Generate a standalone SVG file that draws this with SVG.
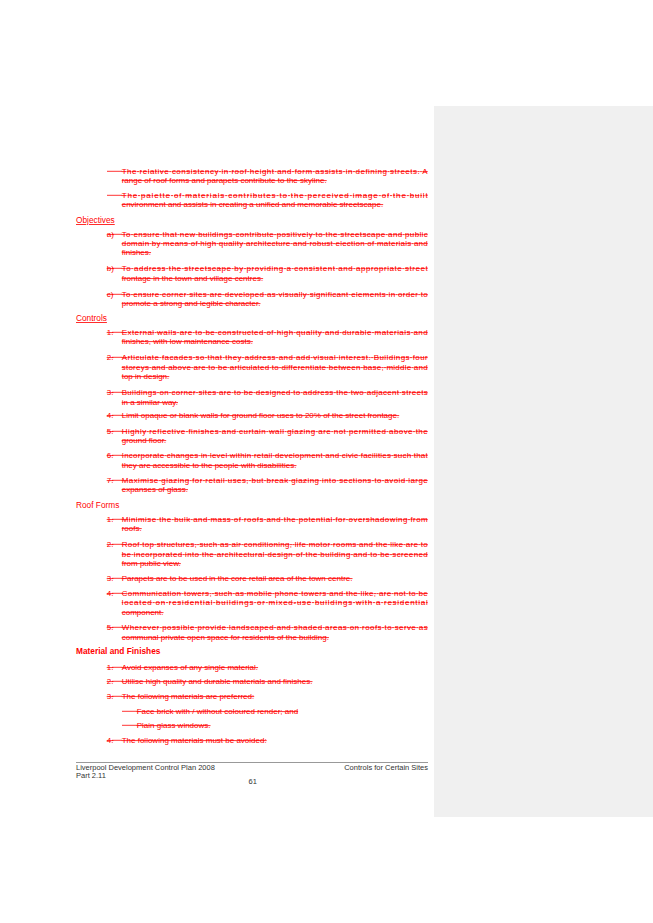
<svg xmlns="http://www.w3.org/2000/svg" width="653" height="923" viewBox="0 0 653 923">
<style>
text{font-family:"Liberation Sans",Arial,sans-serif;font-size:8px;fill:#f00}
.s{text-decoration:line-through}
.h{font-size:8.3px}
.u{text-decoration:underline}
.f{fill:#333;font-size:7.5px}
.g{stroke:#f00;stroke-width:0.8}
</style>
<rect width="653" height="923" fill="#fff"/>
<rect x="434" y="106" width="219" height="711" fill="#f0f0f0"/>
<g id="gaps">
<line class="g" x1="107" y1="171.3" x2="122" y2="171.3"/>
<line class="g" x1="107" y1="195.3" x2="122" y2="195.3"/>
<line class="g" x1="112" y1="234.3" x2="122" y2="234.3"/>
<line class="g" x1="112" y1="268.3" x2="122" y2="268.3"/>
<line class="g" x1="112" y1="294.3" x2="122" y2="294.3"/>
<line class="g" x1="112" y1="332.3" x2="122" y2="332.3"/>
<line class="g" x1="112" y1="357.3" x2="122" y2="357.3"/>
<line class="g" x1="112" y1="392.3" x2="122" y2="392.3"/>
<line class="g" x1="112" y1="415.3" x2="122" y2="415.3"/>
<line class="g" x1="112" y1="431.3" x2="122" y2="431.3"/>
<line class="g" x1="112" y1="455.3" x2="122" y2="455.3"/>
<line class="g" x1="112" y1="480.3" x2="122" y2="480.3"/>
<line class="g" x1="112" y1="519.3" x2="122" y2="519.3"/>
<line class="g" x1="112" y1="544.3" x2="122" y2="544.3"/>
<line class="g" x1="112" y1="578.3" x2="122" y2="578.3"/>
<line class="g" x1="112" y1="593.3" x2="122" y2="593.3"/>
<line class="g" x1="112" y1="627.3" x2="122" y2="627.3"/>
<line class="g" x1="112" y1="667.3" x2="122" y2="667.3"/>
<line class="g" x1="112" y1="681.3" x2="122" y2="681.3"/>
<line class="g" x1="112" y1="696.3" x2="122" y2="696.3"/>
<line class="g" x1="122" y1="711.3" x2="137" y2="711.3"/>
<line class="g" x1="122" y1="725.3" x2="137" y2="725.3"/>
<line class="g" x1="112" y1="740.3" x2="122" y2="740.3"/>
</g>
<g id="intro">
<text class="s" x="121.7" y="174" textLength="306" lengthAdjust="spacing">The relative consistency in roof height and form assists in defining streets.  A</text>
<text class="s" x="121.7" y="183">range of roof forms and parapets contribute to the skyline.</text>
<text class="s" x="121.7" y="198" textLength="306" lengthAdjust="spacing">The palette of materials contributes to the perceived image of the built</text>
<text class="s" x="121.7" y="207">environment and assists in creating a unified and memorable streetscape.</text>
</g>
<g id="objectives">
<text class="h u" x="76" y="223">Objectives</text>
<text class="s" x="106.7" y="237">a)</text>
<text class="s" x="121.7" y="237" textLength="306" lengthAdjust="spacing">To ensure that new buildings contribute positively to the streetscape and public</text>
<text class="s" x="121.7" y="246" textLength="306" lengthAdjust="spacing">domain by means of high quality architecture and robust election of materials and</text>
<text class="s" x="121.7" y="255">finishes.</text>
<text class="s" x="106.7" y="271">b)</text>
<text class="s" x="121.7" y="271" textLength="306" lengthAdjust="spacing">To address the streetscape by providing a consistent and appropriate street</text>
<text class="s" x="121.7" y="281">frontage in the town and village centres.</text>
<text class="s" x="106.7" y="297">c)</text>
<text class="s" x="121.7" y="297" textLength="306" lengthAdjust="spacing">To ensure corner sites are developed as visually significant elements in order to</text>
<text class="s" x="121.7" y="306">promote a strong and legible character.</text>
</g>
<g id="controls">
<text class="h u" x="76" y="321">Controls</text>
<text class="s" x="106.7" y="335">1.</text>
<text class="s" x="121.7" y="335" textLength="306" lengthAdjust="spacing">External walls are to be constructed of high quality and durable materials and</text>
<text class="s" x="121.7" y="344">finishes, with low maintenance costs.</text>
<text class="s" x="106.7" y="360">2.</text>
<text class="s" x="121.7" y="360" textLength="306" lengthAdjust="spacing">Articulate facades so that they address and add visual interest.  Buildings four</text>
<text class="s" x="121.7" y="370" textLength="306" lengthAdjust="spacing">storeys and above are to be articulated to differentiate between base, middle and</text>
<text class="s" x="121.7" y="379">top in design.</text>
<text class="s" x="106.7" y="395">3.</text>
<text class="s" x="121.7" y="395" textLength="306" lengthAdjust="spacing">Buildings on corner sites are to be designed to address the two adjacent streets</text>
<text class="s" x="121.7" y="405">in a similar way.</text>
<text class="s" x="106.7" y="418">4.</text>
<text class="s" x="121.7" y="418">Limit opaque or blank walls for ground floor uses to 20% of the street frontage.</text>
<text class="s" x="106.7" y="434">5.</text>
<text class="s" x="121.7" y="434" textLength="306" lengthAdjust="spacing">Highly reflective finishes and curtain wall glazing are not permitted above the</text>
<text class="s" x="121.7" y="443">ground floor.</text>
<text class="s" x="106.7" y="458">6.</text>
<text class="s" x="121.7" y="458" textLength="306" lengthAdjust="spacing">Incorporate changes in level within retail development and civic facilities such that</text>
<text class="s" x="121.7" y="468">they are accessible to the people with disabilities.</text>
<text class="s" x="106.7" y="483">7.</text>
<text class="s" x="121.7" y="483" textLength="306" lengthAdjust="spacing">Maximise glazing for retail uses, but break glazing into sections to avoid large</text>
<text class="s" x="121.7" y="492">expanses of glass.</text>
</g>
<g id="roof">
<text class="h" x="76" y="508">Roof Forms</text>
<text class="s" x="106.7" y="522">1.</text>
<text class="s" x="121.7" y="522" textLength="306" lengthAdjust="spacing">Minimise the bulk and mass of roofs and the potential for overshadowing from</text>
<text class="s" x="121.7" y="531">roofs.</text>
<text class="s" x="106.7" y="547">2.</text>
<text class="s" x="121.7" y="547" textLength="306" lengthAdjust="spacing">Roof top structures, such as air conditioning, life motor rooms and the like are to</text>
<text class="s" x="121.7" y="557" textLength="306" lengthAdjust="spacing">be incorporated into the architectural design of the building and to be screened</text>
<text class="s" x="121.7" y="566">from public view.</text>
<text class="s" x="106.7" y="581">3.</text>
<text class="s" x="121.7" y="581">Parapets are to be used in the core retail area of the town centre.</text>
<text class="s" x="106.7" y="596">4.</text>
<text class="s" x="121.7" y="596" textLength="306" lengthAdjust="spacing">Communication towers, such as mobile phone towers and the like, are not to be</text>
<text class="s" x="121.7" y="605" textLength="306" lengthAdjust="spacing">located on residential buildings or mixed-use buildings with a residential</text>
<text class="s" x="121.7" y="615">component.</text>
<text class="s" x="106.7" y="630">5.</text>
<text class="s" x="121.7" y="630" textLength="306" lengthAdjust="spacing">Wherever possible provide landscaped and shaded areas on roofs to serve as</text>
<text class="s" x="121.7" y="640">communal private open space for residents of the building.</text>
</g>
<g id="materials">
<text class="h" x="76" y="654" font-weight="bold" style="font-weight:600">Material and Finishes</text>
<text class="s" x="106.7" y="670">1.</text>
<text class="s" x="121.7" y="670">Avoid expanses of any single material.</text>
<text class="s" x="106.7" y="684">2.</text>
<text class="s" x="121.7" y="684">Utilise high quality and durable materials and finishes.</text>
<text class="s" x="106.7" y="699">3.</text>
<text class="s" x="121.7" y="699">The following materials are preferred:</text>
<text class="s" x="136.7" y="714">Face brick with / without coloured render; and</text>
<text class="s" x="136.7" y="728">Plain glass windows.</text>
<text class="s" x="106.7" y="743">4.</text>
<text class="s" x="121.7" y="743">The following materials must be avoided:</text>
</g>
<g id="footer">
<line x1="76" y1="762.5" x2="428" y2="762.5" stroke="#999" stroke-width="1"/>
<text class="f" x="76" y="770">Liverpool Development Control Plan 2008</text>
<text class="f" x="428" y="770" text-anchor="end">Controls for Certain Sites</text>
<text class="f" x="76" y="778">Part 2.11</text>
<text class="f" x="252.7" y="784" text-anchor="middle">61</text>
</g>
</svg>
